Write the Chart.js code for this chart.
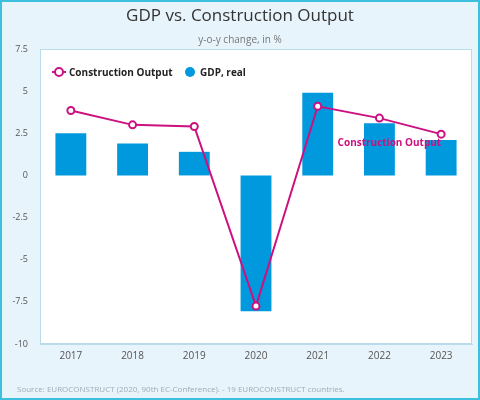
<!DOCTYPE html>
<html>
<head>
<meta charset="utf-8">
<script src="https://cdn.jsdelivr.net/npm/chart.js@4"></script>
<style>
  html, body { margin: 0; padding: 0; background: #fff; }
  #wrap { position: relative; width: 476px; height: 396px; border: 2px solid #3cc0dd; background: #e8f4fc; }
  canvas { display: block; }
</style>
</head>
<body>
<div id="wrap"><canvas id="c" width="476" height="396"></canvas></div>
<script>
const years = ["2017", "2018", "2019", "2020", "2021", "2022", "2023"];
const gdpReal = [2.5, 1.9, 1.4, -8.05, 4.9, 3.1, 2.1];
const constructionOutput = [3.85, 3.0, 2.9, -7.75, 4.1, 3.4, 2.45];
const yTicks = [7.5, 5, 2.5, 0, -2.5, -5, -7.5, -10];

const FONT = "'Open Sans', 'DejaVu Sans', sans-serif";
const MAGENTA = "#cc1080";
const BLUE = "#0099dd";

const decor = {
  id: "decor",
  beforeDraw(chart) {
    const { ctx, chartArea: a } = chart;
    ctx.save();
    ctx.fillStyle = "#fff";
    ctx.fillRect(a.left, a.top, a.right - a.left, a.bottom - a.top);
    ctx.strokeStyle = "#b8dcea";
    ctx.lineWidth = 1;
    ctx.strokeRect(a.left + 0.5, a.top + 0.5, a.right - a.left - 1, a.bottom - a.top - 1);
    ctx.restore();
  },
  afterDraw(chart) {
    const { ctx } = chart;
    ctx.save();
    ctx.textAlign = "center";
    ctx.textBaseline = "middle";
    ctx.fillStyle = "#333";
    ctx.font = "17px " + FONT;
    ctx.fillText("GDP vs. Construction Output", 238, 14);
    ctx.fillStyle = "#777";
    ctx.font = "10px " + FONT;
    ctx.fillText("y-o-y change, in %", 238, 38);
    // legend
    ctx.textAlign = "left";
    ctx.font = "bold 10px " + FONT;
    const ly = 70;
    ctx.strokeStyle = MAGENTA;
    ctx.lineWidth = 2;
    ctx.beginPath(); ctx.moveTo(50, ly); ctx.lineTo(64, ly); ctx.stroke();
    ctx.beginPath(); ctx.arc(57, ly, 4, 0, Math.PI * 2);
    ctx.fillStyle = "#fff"; ctx.fill(); ctx.stroke();
    ctx.fillStyle = "#222";
    ctx.fillText("Construction Output", 67, ly + 1);
    ctx.fillStyle = BLUE;
    ctx.beginPath(); ctx.arc(188, ly, 5, 0, Math.PI * 2); ctx.fill();
    ctx.fillStyle = "#222";
    ctx.fillText("GDP, real", 198, ly + 1);
    // data label on last point
    const meta = chart.getDatasetMeta(0);
    const last = meta.data[meta.data.length - 1];
    ctx.fillStyle = MAGENTA;
    ctx.textAlign = "right";
    ctx.fillText("Construction Output", last.x, last.y + 9);
    // source
    ctx.textAlign = "left";
    ctx.font = "8px " + FONT;
    ctx.fillStyle = "#a0aab8";
    ctx.fillText("Source: EUROCONSTRUCT (2020, 90th EC-Conference). - 19 EUROCONSTRUCT countries.", 15, 388);
    ctx.restore();
  }
};

new Chart(document.getElementById("c"), {
  data: {
    labels: years,
    datasets: [
      {
        type: "line",
        label: "Construction Output",
        data: constructionOutput,
        borderColor: MAGENTA,
        borderWidth: 2,
        pointRadius: 3.5,
        pointBorderWidth: 2,
        pointBackgroundColor: "#fff",
        pointBorderColor: MAGENTA,
        tension: 0,
        order: 0,
      },
      {
        type: "bar",
        label: "GDP, real",
        data: gdpReal,
        backgroundColor: BLUE,
        barPercentage: 0.5,
        categoryPercentage: 1,
        order: 1,
      },
    ],
  },
  options: {
    responsive: false,
    animation: false,
    layout: { padding: { top: 47, right: 2, left: 0, bottom: 0 } },
    plugins: { legend: { display: false }, tooltip: { enabled: false } },
    scales: {
      x: {
        offset: true,
        grid: { display: false, drawTicks: false },
        border: { color: "#b8dcea" },
        ticks: { color: "#555", font: { family: FONT, size: 10 }, padding: 6 },
        afterFit: s => { s.height = 54; },
      },
      y: {
        min: -10, max: 7.5,
        afterBuildTicks: s => { s.ticks = yTicks.map(v => ({ value: v })); },
        grid: { display: false, drawTicks: false },
        border: { display: false },
        ticks: { color: "#555", font: { family: FONT, size: 9 }, padding: 12 },
        afterFit: s => { s.width = 38; },
      },
    },
  },
  plugins: [decor],
});
</script>
</body>
</html>
